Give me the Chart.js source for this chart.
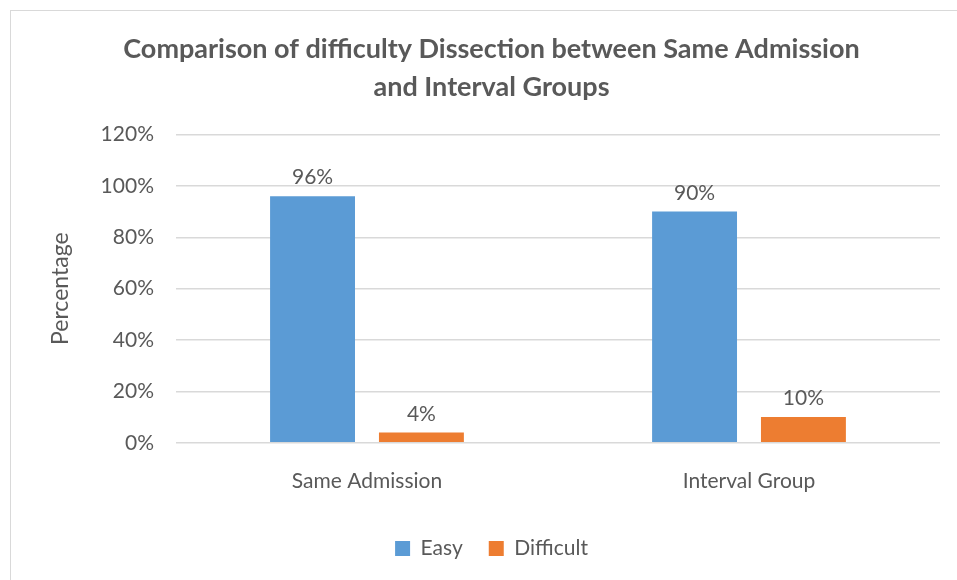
<!DOCTYPE html>
<html>
<head>
<meta charset="utf-8">
<script src="https://cdn.jsdelivr.net/npm/chart.js@4"></script>
<style>
  body { margin: 0; background: #fff; overflow: hidden; }
  #frame { position: absolute; left: 10px; top: 10px; width: 960px; height: 600px; border: 1px solid #d9d9d9; }
  #wrap { position: absolute; left: 0; top: 0; width: 957px; height: 580px; }
</style>
</head>
<body>
<div id="frame"></div>
<div id="wrap"><canvas id="chart"></canvas></div>
<script>
// Chart data
const categories = ['Same Admission', 'Interval Group'];
const easyValues = [96, 90];
const difficultValues = [4, 10];
const yTicks = [0, 20, 40, 60, 80, 100, 120];

const textColor = '#595959';
const font = 'Lato, "Open Sans", sans-serif';

// draws the value above each bar
const barLabels = {
  id: 'barLabels',
  afterDatasetsDraw(chart) {
    const ctx = chart.ctx;
    ctx.save();
    ctx.fillStyle = textColor;
    ctx.font = '21px ' + font;
    ctx.textAlign = 'center';
    ctx.textBaseline = 'bottom';
    chart.data.datasets.forEach((ds, i) => {
      chart.getDatasetMeta(i).data.forEach((bar, j) => {
        ctx.fillText(ds.data[j] + '%', bar.x, bar.y - 8);
      });
    });
    ctx.restore();
  }
};

new Chart(document.getElementById('chart'), {
  type: 'bar',
  data: {
    labels: categories,
    datasets: [
      { label: 'Easy', data: easyValues, backgroundColor: '#5b9bd5' },
      { label: 'Difficult', data: difficultValues, backgroundColor: '#ed7d31' },
    ],
  },
  options: {
    responsive: true,
    maintainAspectRatio: false,
    animation: false,
    categoryPercentage: 0.57,
    barPercentage: 0.78,
    layout: { padding: { left: 43, right: 17, top: 8, bottom: 11 } },
    scales: {
      x: {
        grid: { display: false },
        border: { display: false },
        ticks: { color: textColor, font: { family: font, size: 21 }, padding: 18 },
      },
      y: {
        min: 0,
        max: 120,
        afterBuildTicks: (axis) => { axis.ticks = yTicks.map(v => ({ value: v })); },
        grid: { color: '#d9d9d9', lineWidth: 1.5, drawTicks: false },
        border: { display: false },
        ticks: { color: textColor, font: { family: font, size: 21 }, padding: 22, callback: (v) => v + '%' },
        title: { display: true, text: 'Percentage', color: textColor, font: { family: font, size: 23 }, padding: { top: 4, bottom: 4 } },
      },
    },
    plugins: {
      title: {
        display: true,
        text: ['Comparison of difficulty Dissection between Same Admission', 'and Interval Groups'],
        color: textColor,
        font: { family: font, size: 27, weight: 'bold', lineHeight: 1.38 },
        padding: { top: 23, bottom: 29 },
      },
      legend: {
        position: 'bottom',
        labels: { color: textColor, font: { family: font, size: 21 }, boxWidth: 15, boxHeight: 15, padding: 26 },
      },
      tooltip: { enabled: false },
    },
  },
  plugins: [barLabels],
});
</script>
</body>
</html>
